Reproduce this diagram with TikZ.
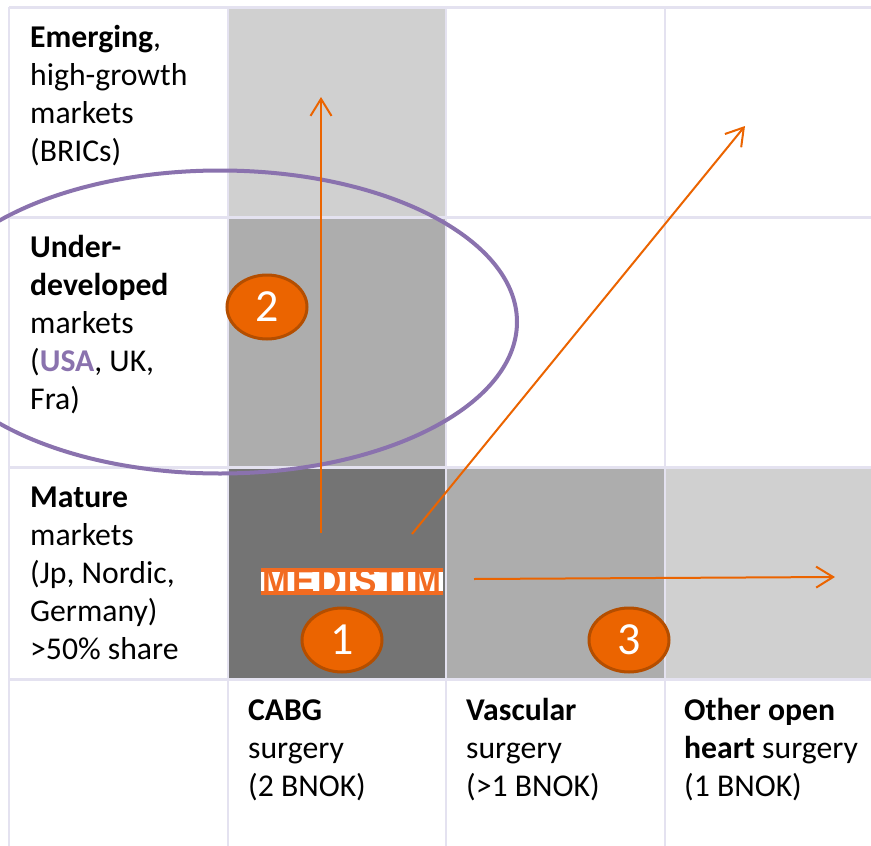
\documentclass[tikz,border=0pt]{standalone}
\usepackage{fontspec}
\setmainfont{Carlito}
\newfontfamily\logofont[LetterSpace=6]{Liberation Sans}
\usetikzlibrary{arrows.meta,shapes.geometric}
\definecolor{gridc}{HTML}{E4E2F0}
\definecolor{cellL}{HTML}{D0D0D0}
\definecolor{cellM}{HTML}{ADADAD}
\definecolor{cellD}{HTML}{747474}
\definecolor{orng}{HTML}{EB6400}
\definecolor{orngdark}{HTML}{B44E00}
\definecolor{logoorng}{HTML}{F26B21}
\definecolor{purp}{HTML}{8A72AE}
\tikzset{
  gridh/.style={draw=gridc,line width=3pt},
  gridv/.style={draw=gridc,line width=2.5pt},
  lbl/.style={anchor=base west,inner sep=0pt,font=\fontsize{31.7}{38}\selectfont},
  badge/.style={ellipse,fill=orng,draw=orngdark,line width=3pt,minimum width=80pt,minimum height=64pt,inner sep=0pt,text=white,font=\fontsize{46}{46}\selectfont},
  growth/.style={draw=orng,line width=2pt,-{Straight Barb[length=17pt,width=21pt]}},
}
\begin{document}
\begin{tikzpicture}[x=1pt,y=-1pt]
\useasboundingbox (0,0) rectangle (871,846);
\fill[white] (0,0) rectangle (871,846);
% cells
\fill[cellL] (228,7) rectangle (446,217);
\fill[cellM] (228,217) rectangle (446,467);
\fill[cellD] (228,467) rectangle (446,679);
\fill[cellM] (446,467) rectangle (665,679);
\fill[cellL] (665,467) rectangle (871,679);
% grid
\foreach \yy in {7,217,467,679} \draw[gridh] (9,\yy) -- (871,\yy);
\foreach \xx in {9,228,446,665} \draw[gridv] (\xx,7) -- (\xx,846);
% ellipse
\draw[purp,line width=4pt] (220,322) ellipse [x radius=297pt,y radius=151.5pt];
% labels
\node[lbl] (emerging) at (30,47) {\begin{tabular}[t]{@{}l@{}}\textbf{Emerging},\\high-growth\\markets\\(BRICs)\end{tabular}};
\node[lbl] (under) at (30,257) {\begin{tabular}[t]{@{}l@{}}\textbf{Under-}\\\textbf{developed}\\markets\\(\textbf{\textcolor{purp}{USA}}, UK,\\Fra)\end{tabular}};
\node[lbl] (mature) at (30,507) {\begin{tabular}[t]{@{}l@{}}\textbf{Mature}\\markets\\(Jp, Nordic,\\Germany)\\>50\% share\end{tabular}};
\node[lbl] (cabg) at (248,720) {\begin{tabular}[t]{@{}l@{}}\textbf{CABG}\\surgery\\(2 BNOK)\end{tabular}};
\node[lbl] (vasc) at (466,720) {\begin{tabular}[t]{@{}l@{}}\textbf{Vascular}\\surgery\\(>1 BNOK)\end{tabular}};
\node[lbl] (other) at (684,720) {\begin{tabular}[t]{@{}l@{}}\textbf{Other open}\\\textbf{heart} surgery\\(1 BNOK)\end{tabular}};
% arrows
\coordinate (vstart) at (321,533);
\coordinate (vend) at (321,97);
\coordinate (dstart) at (412,534);
\coordinate (dend) at (745,126);
\coordinate (hstart) at (474,579);
\coordinate (hend) at (835,577);
\draw[growth] (vstart) -- (vend);
\draw[growth] (dstart) -- (dend);
\draw[growth] (hstart) -- (hend);
% logo
\fill[logoorng] (261,568) rectangle (443,595);
\fill[white] (261,572) rectangle (443,591);
\node[inner sep=0pt,text=logoorng] (logo) at (352,581.5) {\resizebox{178pt}{25pt}{\logofont\bfseries MEDISTIM}};
% badges
\node[badge] (b1) at (342,640) {1};
\node[badge] (b2) at (267,307) {2};
\node[badge] (b3) at (629,640) {3};
\end{tikzpicture}
\end{document}
